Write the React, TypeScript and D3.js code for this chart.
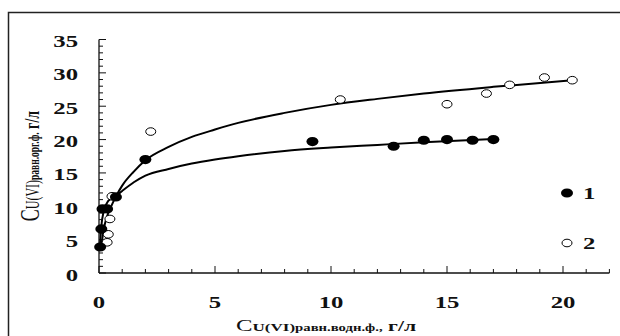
import React from "react";
import * as d3 from "d3";

// Series 1 (filled circles)
const s1X = [0.05, 0.1, 0.15, 0.35, 0.73, 2.0, 9.2, 12.7, 14.0, 15.0, 16.1, 17.0];
const s1Y = [3.9, 6.6, 9.6, 9.6, 11.4, 17.0, 19.7, 19.0, 19.9, 20.0, 19.9, 20.0];
// Series 2 (open circles)
const s2X = [0.35, 0.4, 0.47, 0.56, 2.23, 10.4, 15.0, 16.7, 17.7, 19.2, 20.4];
const s2Y = [4.6, 5.8, 8.1, 11.5, 21.2, 26.0, 25.3, 26.9, 28.2, 29.3, 28.9];
// Fitted curves
const fit1X = [0.05, 0.1, 0.2, 0.4, 0.75, 1, 1.5, 2, 3, 4, 5, 6, 8, 10, 12, 14, 17];
const fit1Y = [4.5, 7.0, 9.2, 10.8, 11.6, 12.3, 13.6, 14.6, 15.6, 16.4, 17.0, 17.5, 18.3, 18.8, 19.2, 19.6, 20.1];
const fit2X = [0.1, 0.2, 0.35, 0.5, 0.75, 1, 1.5, 2, 3, 4, 5, 6, 8, 10, 12, 14, 17, 20.4];
const fit2Y = [4.0, 6.5, 8.5, 9.8, 11.6, 13.1, 15.2, 16.9, 18.9, 20.4, 21.5, 22.5, 24.0, 25.2, 26.1, 26.9, 27.9, 28.9];

const xTicks = [0, 5, 10, 15, 20];
const yTicks = [0, 5, 10, 15, 20, 25, 30, 35];
const legendLabels = ["1", "2"];

const xTitleMain = "C";
const xTitleSub = "U(VI)";
const xTitleSub2 = "равн.водн.ф.,";
const xTitleUnit = " г/л";
const yTitleMain = "C";
const yTitleSub = "U(VI)";
const yTitleSub2 = "равн.орг.ф.";
const yTitleUnit = " г/л";

const FONT = "'Liberation Serif', 'Times New Roman', serif";
const INK = "#111";

export default function App() {
  const x = d3.scaleLinear().domain([0, 22]).range([99, 609.4]);
  const y = d3.scaleLinear().domain([0, 35]).range([273, 39.5]);

  const line = d3
    .line<[number, number]>()
    .x((d) => x(d[0]))
    .y((d) => y(d[1]))
    .curve(d3.curveMonotoneX);

  const fit1 = fit1X.map((v, i) => [v, fit1Y[i]] as [number, number]);
  const fit2 = fit2X.map((v, i) => [v, fit2Y[i]] as [number, number]);

  const xMinor = d3.range(0, 23, 1);
  const yMinor = d3.range(0, 36, 1);

  const sx = 1.5;

  return (
    <svg
      width={620}
      height={336}
      style={{ position: "absolute", left: 0, top: 0, background: "#fff" }}
    >
      <rect x={8.5} y={12.5} width={640} height={360} fill="none" stroke="#222" strokeWidth={1.5} />

      {/* y axis */}
      <line x1={x(0)} x2={x(0)} y1={y(35)} y2={y(0)} stroke={INK} strokeWidth={1.3} />
      {yMinor.map((t) => (
        <line
          key={"ym" + t}
          x1={x(0)}
          x2={x(0) + (t % 5 === 0 ? 7 : 4)}
          y1={y(t)}
          y2={y(t)}
          stroke={INK}
          strokeWidth={1}
        />
      ))}
      {yTicks.map((t) => (
        <text
          key={"yl" + t}
          transform={`translate(78,${y(t) + 7.5}) scale(${sx},1)`}
          textAnchor="end"
          fontFamily={FONT}
          fontWeight="bold"
          fontSize={16.5}
          fill={INK}
        >
          {t}
        </text>
      ))}

      {/* x axis */}
      <line x1={x(0)} x2={x(22)} y1={y(0)} y2={y(0)} stroke={INK} strokeWidth={1.3} />
      {xMinor.map((t) => (
        <line
          key={"xm" + t}
          x1={x(t)}
          x2={x(t)}
          y1={y(0)}
          y2={y(0) - (t % 5 === 0 ? 7 : 4)}
          stroke={INK}
          strokeWidth={1}
        />
      ))}
      {xTicks.map((t) => (
        <text
          key={"xl" + t}
          transform={`translate(${x(t)},308) scale(${sx},1)`}
          textAnchor="middle"
          fontFamily={FONT}
          fontWeight="bold"
          fontSize={16.5}
          fill={INK}
        >
          {t}
        </text>
      ))}

      {/* curves */}
      <path d={line(fit1) || ""} fill="none" stroke="#000" strokeWidth={2} />
      <path d={line(fit2) || ""} fill="none" stroke="#000" strokeWidth={2} />

      {/* series 2 open */}
      {s2X.map((v, i) => (
        <ellipse
          key={"s2" + i}
          cx={x(v)}
          cy={y(s2Y[i])}
          rx={5}
          ry={3.8}
          fill="#fff"
          stroke="#000"
          strokeWidth={1}
        />
      ))}
      {/* series 1 filled */}
      {s1X.map((v, i) => (
        <ellipse key={"s1" + i} cx={x(v)} cy={y(s1Y[i])} rx={6} ry={4.6} fill="#000" />
      ))}

      {/* legend */}
      <ellipse cx={567} cy={193} rx={6} ry={4.6} fill="#000" />
      <text
        transform={`translate(583,198.5) scale(${sx},1)`}
        fontFamily={FONT}
        fontWeight="bold"
        fontSize={16.5}
        fill={INK}
      >
        {legendLabels[0]}
      </text>
      <ellipse cx={567} cy={243} rx={5} ry={3.8} fill="#fff" stroke="#000" strokeWidth={1} />
      <text
        transform={`translate(583,249) scale(${sx},1)`}
        fontFamily={FONT}
        fontWeight="bold"
        fontSize={16.5}
        fill={INK}
      >
        {legendLabels[1]}
      </text>

      {/* x title */}
      <text
        transform={`translate(236,331) scale(1.55,1)`}
        fontFamily={FONT}
        fill={INK}
      >
        <tspan fontSize={16}>{xTitleMain}</tspan>
        <tspan fontSize={11} fontWeight="bold">{xTitleSub}</tspan>
        <tspan fontSize={9.5} fontWeight="bold">{xTitleSub2}</tspan>
        <tspan fontSize={14} fontWeight="bold">{xTitleUnit}</tspan>
      </text>

      {/* y title */}
      <text
        transform={`translate(39,166) rotate(-90) scale(1,1.55)`}
        textAnchor="middle"
        fontFamily={FONT}
        fill={INK}
      >
        <tspan fontSize={18}>{yTitleMain}</tspan>
        <tspan fontSize={12}>{yTitleSub}</tspan>
        <tspan fontSize={9.5} fontWeight="bold">{yTitleSub2}</tspan>
        <tspan fontSize={14} fontWeight="bold">{yTitleUnit}</tspan>
      </text>
    </svg>
  );
}
